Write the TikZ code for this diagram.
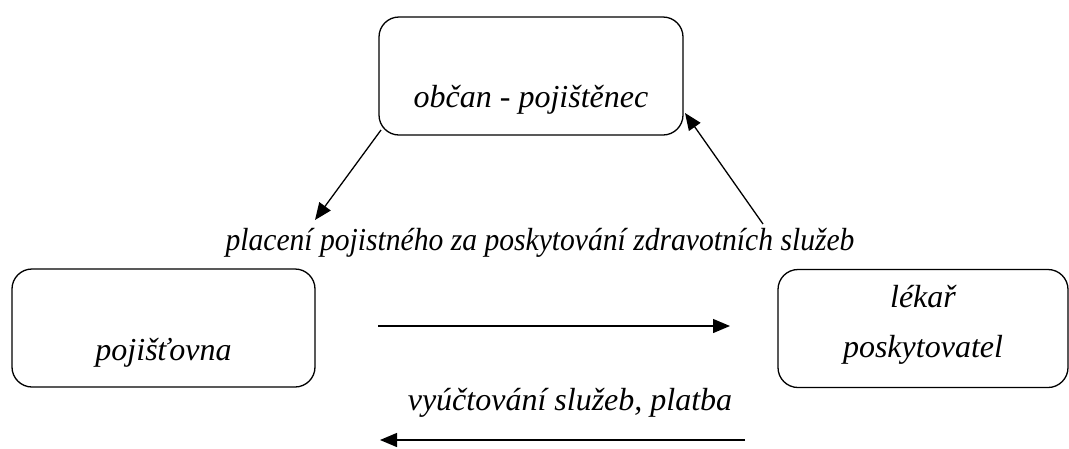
\documentclass[tikz,border=0pt]{standalone}
\usepackage{fontspec}
\setmainfont{Liberation Serif}
\usetikzlibrary{arrows.meta,positioning}
\tikzset{
  box/.style={draw,line width=1.3pt,rounded corners=20pt,minimum width=#1,minimum height=118pt,inner sep=0pt},
  txt/.style={font=\fontsize{32}{40}\selectfont\itshape,anchor=base,inner sep=0pt},
  flow/.style={-{Triangle[length=17pt,width=14pt]},line width=1.3pt}
}

\begin{document}
\begin{tikzpicture}[x=1pt,y=-1pt]
  \useasboundingbox (0,0) rectangle (1069,448);
  % boxes
  \node[box=304pt] (obcan) at (531,76) {};
  \node[box=303pt] (pojistovna) at (163.5,328) {};
  \node[box=290pt] (lekar) at (923,328.5) {};
  % box texts
  \node[txt] (obcanText) at (531,107) {občan - pojištěnec};
  \node[txt] (pojistovnaText) at (163.5,360) {pojišťovna};
  \node[txt] (lekarText) at (923,307) {lékař};
  \node[txt] (poskytText) at (923,357) {poskytovatel};
  % labels
  \node[txt,xscale=0.925] (placeni) at (540,250) {placení pojistného za poskytování zdravotních služeb};
  \node[txt] (vyuct) at (570,410) {vyúčtování služeb, platba};
  % free ends
  \coordinate (platTo) at (315,220);
  \coordinate (platFrom) at (763,224);
  \coordinate (obcanIn) at (685,113);
  \coordinate (obcanOut) at (381,130);
  \coordinate (sluzbyFrom) at (378,326);
  \coordinate (sluzbyTo) at (730,326);
  \coordinate (platbaFrom) at (745,440);
  \coordinate (platbaTo) at (380,440);
  % arrows
  \draw[flow] (obcanOut) -- (platTo);
  \draw[flow] (platFrom) -- (obcanIn);
  \draw[flow] (sluzbyFrom) -- (sluzbyTo);
  \draw[flow] (platbaFrom) -- (platbaTo);
\end{tikzpicture}
\end{document}
